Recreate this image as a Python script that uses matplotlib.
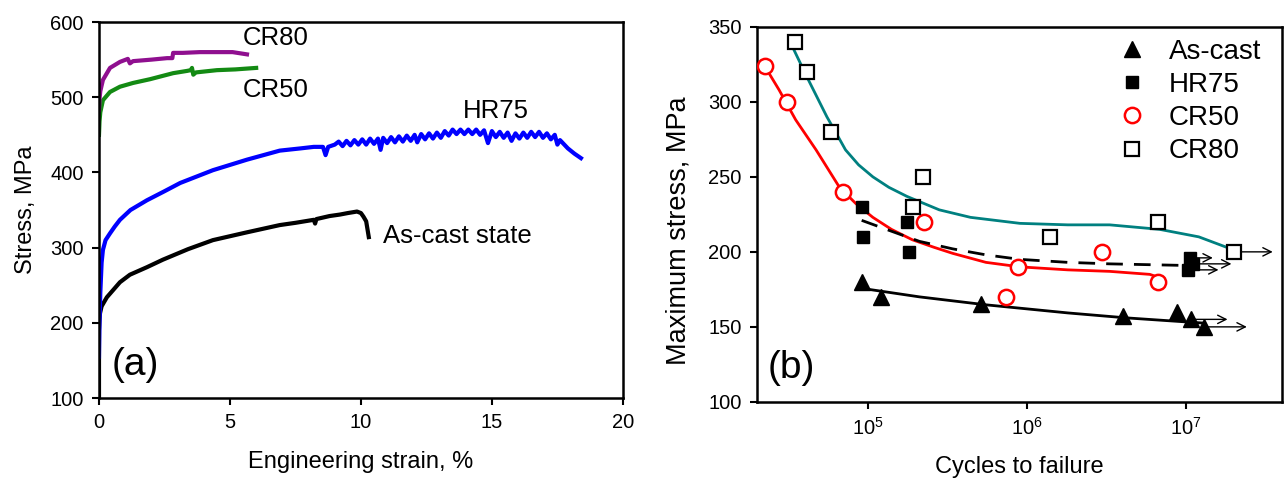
import matplotlib
matplotlib.use("Agg")
import matplotlib.pyplot as plt
from matplotlib.ticker import NullLocator

plt.rcParams['font.family'] = ['Liberation Sans', 'DejaVu Sans']
plt.rcParams['mathtext.default'] = 'regular'

# ---------------- (a) tensile curves ----------------
cast_strain = [0, 0, 0.02, 0.04, 0.1, 0.3, 0.55, 0.8, 1.18, 1.83, 2.44, 3.4, 4.35, 5.6, 6.9,
               7.5, 8.2, 8.25, 8.3, 8.8, 9.2, 9.5, 9.85, 10.0, 10.1, 10.2, 10.3]
cast_stress = [100, 190, 205, 213, 222, 234, 244, 254, 264, 274, 284, 298, 310, 320, 330,
               333, 337, 332, 338, 342, 344, 346, 348, 346, 341, 335, 314]

hr75_strain = [0, 0.02, 0.05, 0.1, 0.15, 0.25, 0.42, 0.6, 0.8, 1.2, 1.83, 2.5, 3.1, 4.35,
               5.65, 6.9, 7.7, 8.2, 8.55, 8.65, 8.75,
               9.0, 9.15, 9.3, 9.45, 9.6, 9.75, 9.9, 10.05, 10.2, 10.35, 10.5, 10.65, 10.75,
               10.85, 11.0, 11.15, 11.3, 11.45, 11.6, 11.75, 11.9, 12.05, 12.15, 12.3, 12.45,
               12.6, 12.75, 12.9, 13.05, 13.2, 13.35, 13.5, 13.65, 13.8, 13.95, 14.1, 14.25,
               14.4, 14.55, 14.7, 14.85, 15.0, 15.15, 15.3, 15.45, 15.6, 15.75, 15.9, 16.05,
               16.2, 16.35, 16.5, 16.65, 16.8, 16.95, 17.1, 17.25, 17.4, 17.5, 17.6, 17.9,
               18.15, 18.4]
hr75_stress = [155, 200, 240, 280, 297, 310, 319, 328, 337, 350, 363, 375, 386, 403,
               417, 429, 432, 434, 434, 423, 434,
               437, 441, 435, 442, 436, 443, 437, 444, 437, 445, 438, 445, 430,
               446, 439, 447, 440, 448, 441, 449, 442, 450, 440, 451, 444,
               452, 445, 453, 446, 455, 449, 457, 451, 457, 451, 457, 451,
               457, 450, 456, 439, 455, 447, 454, 446, 453, 442, 452, 445,
               453, 446, 454, 447, 454, 446, 452, 444, 450, 437, 443, 432,
               425, 419]

cr50_strain = [0, 0.02, 0.05, 0.15, 0.42, 0.8, 1.3, 1.95, 2.83, 3.36, 3.5, 3.55, 3.6, 3.7,
               4.5, 5.2, 6.0]
cr50_stress = [450, 468, 480, 496, 507, 514, 519, 524, 532, 535, 536, 539, 530, 533,
               536, 537, 539]

cr80_strain = [0, 0.02, 0.05, 0.15, 0.42, 0.8, 1.1, 1.18, 1.3, 2.0, 2.6, 2.8, 2.83, 3.2,
               3.85, 5.1, 5.65]
cr80_stress = [483, 498, 508, 523, 539, 547, 551, 545, 548, 550, 552, 552, 559, 559,
               560, 560, 557]

# ---------------- (b) fatigue data ----------------
cast_N = [9.1e4, 1.2e5, 5.1e5, 4.0e6, 8.7e6]
cast_S = [180, 170, 165, 157, 160]
cast_runout_N = [1.07e7, 1.3e7]
cast_runout_S = [155, 150]

hr_N = [9.2e4, 9.3e4, 1.76e5, 1.8e5]
hr_S = [230, 210, 220, 200]
hr_runout_N = [1.05e7, 1.1e7, 1.03e7]
hr_runout_S = [196, 192, 188]

c50_N = [2.25e4, 3.1e4, 6.9e4, 2.25e5, 7.4e5, 8.7e5, 2.95e6, 6.6e6]
c50_S = [324, 300, 240, 220, 170, 190, 200, 180]

c80_N = [3.45e4, 4.1e4, 5.8e4, 1.9e5, 2.2e5, 1.4e6, 6.6e6]
c80_S = [340, 320, 280, 230, 250, 210, 220]
c80_runout_N = [2.0e7]
c80_runout_S = [200]

# trend lines
fit80_N = [3.4e4, 4.1e4, 5.5e4, 6.3e4, 7.2e4, 8.7e4, 1.07e5, 1.35e5, 1.75e5, 2.8e5, 4.4e5,
           9e5, 1.8e6, 3.3e6, 6.8e6, 1.2e7, 1.8e7, 2.0e7]
fit80_S = [335, 317, 290, 279, 268, 258, 250, 243, 237, 228, 223,
           219, 218, 218, 215, 210, 203, 200]
fit50_N = [2.2e4, 2.75e4, 3.5e4, 4.7e4, 6.6e4, 8.4e4, 1.07e5, 1.4e5, 1.9e5, 2.6e5, 3.4e5,
           5.5e5, 9e5, 1.8e6, 3.3e6, 5.9e6, 6.5e6]
fit50_S = [325, 308, 288, 268, 243, 232, 223, 215, 208, 203, 199,
           193, 190, 188, 187, 185, 183.5]
fithr_N = [9.1e4, 1.3e5, 2.1e5, 3.4e5, 5.5e5, 9e5, 1.8e6, 3.3e6, 9.3e6, 1.1e7]
fithr_S = [221, 215, 207, 202, 198, 195, 193, 192, 191, 191]
fitcast_N = [8.7e4, 2.1e5, 5.5e5, 1.8e6, 4.2e6, 1.1e7, 1.3e7]
fitcast_S = [176, 170, 164.7, 159.3, 156, 153, 152.5]

fig = plt.figure(figsize=(12.84, 4.79), dpi=100)
ax1 = fig.add_axes([0.0771, 0.169, 0.408, 0.785])
ax2 = fig.add_axes([0.5896, 0.161, 0.4088, 0.783])

# ---- panel (a)
ax1.plot(cast_strain, cast_stress, color='black', lw=3)
ax1.plot(hr75_strain, hr75_stress, color='#0000ff', lw=3)
ax1.plot(cr50_strain, cr50_stress, color='#138a13', lw=3)
ax1.plot(cr80_strain, cr80_stress, color='#8f0f8f', lw=3)
ax1.set_xlim(0, 20)
ax1.set_ylim(100, 600)
ax1.set_xticks([0, 5, 10, 15, 20])
ax1.set_yticks([100, 200, 300, 400, 500, 600])
ax1.set_xlabel('Engineering strain, %', fontsize=17)
ax1.set_ylabel('Stress, MPa', fontsize=17)
ax1.xaxis.set_label_coords(0.5, -0.14)
ax1.yaxis.set_label_coords(-0.118, 0.5)
ax1.text(5.5, 579, 'CR80', fontsize=18.5, va='center')
ax1.text(5.5, 510, 'CR50', fontsize=18.5, va='center')
ax1.text(13.9, 482, 'HR75', fontsize=18.5, va='center')
ax1.text(10.85, 315, 'As-cast state', fontsize=18.5, va='center')
ax1.text(0.5, 144, '(a)', fontsize=28, va='center')

# ---- panel (b)
ax2.set_xscale('log')
ax2.plot(fit80_N, fit80_S, color='#008080', lw=2)
ax2.plot(fit50_N, fit50_S, color='#ff0000', lw=2)
ax2.plot(fithr_N, fithr_S, color='black', lw=2, ls=(0, (6, 4)))
ax2.plot(fitcast_N, fitcast_S, color='black', lw=2)

for N, S, f in [(cast_runout_N, cast_runout_S, [1.7, 1.85]),
                (hr_runout_N, hr_runout_S, [1.4, 1.75, 1.55]),
                (c80_runout_N, c80_runout_S, [1.75])]:
    for n, s, k in zip(N, S, f):
        ax2.annotate('', xy=(n * k, s), xytext=(n, s),
                     arrowprops=dict(arrowstyle='->', lw=1, color='black',
                                     shrinkA=0, shrinkB=0, mutation_scale=15))

ax2.plot(cast_N + cast_runout_N, cast_S + cast_runout_S, '^', color='black', ms=12,
         ls='none', label='As-cast', zorder=5)
ax2.plot(hr_N + hr_runout_N, hr_S + hr_runout_S, 's', color='black', ms=9,
         ls='none', label='HR75', zorder=5)
ax2.plot(c50_N, c50_S, 'o', mfc='white', mec='#ff0000', mew=1.8, ms=11,
         ls='none', label='CR50', zorder=5)
ax2.plot(c80_N + c80_runout_N, c80_S + c80_runout_S, 's', mfc='white', mec='black',
         mew=1.6, ms=10, ls='none', label='CR80', zorder=5)

ax2.set_xlim(2e4, 4e7)
ax2.set_ylim(100, 350)
ax2.set_xticks([1e5, 1e6, 1e7])
ax2.xaxis.set_minor_locator(NullLocator())
ax2.set_yticks([100, 150, 200, 250, 300, 350])
ax2.set_xlabel('Cycles to failure', fontsize=17)
ax2.set_ylabel('Maximum stress, MPa', fontsize=19.5)
ax2.xaxis.set_label_coords(0.5, -0.145)
ax2.yaxis.set_label_coords(-0.124, 0.456)
ax2.text(0.021, 0.09, '(b)', fontsize=28, va='center', transform=ax2.transAxes)
ax2.legend(loc='upper right', bbox_to_anchor=(0.997, 1.02), frameon=False, fontsize=20,
           handlelength=1.0, handletextpad=0.8, labelspacing=0.26, borderaxespad=0.3)

for ax in (ax1, ax2):
    for sp in ax.spines.values():
        sp.set_linewidth(1.8)
    ax.tick_params(direction='out', length=5, width=1.5, labelsize=14.5, pad=6)

fig.savefig('out.png', dpi=100)
